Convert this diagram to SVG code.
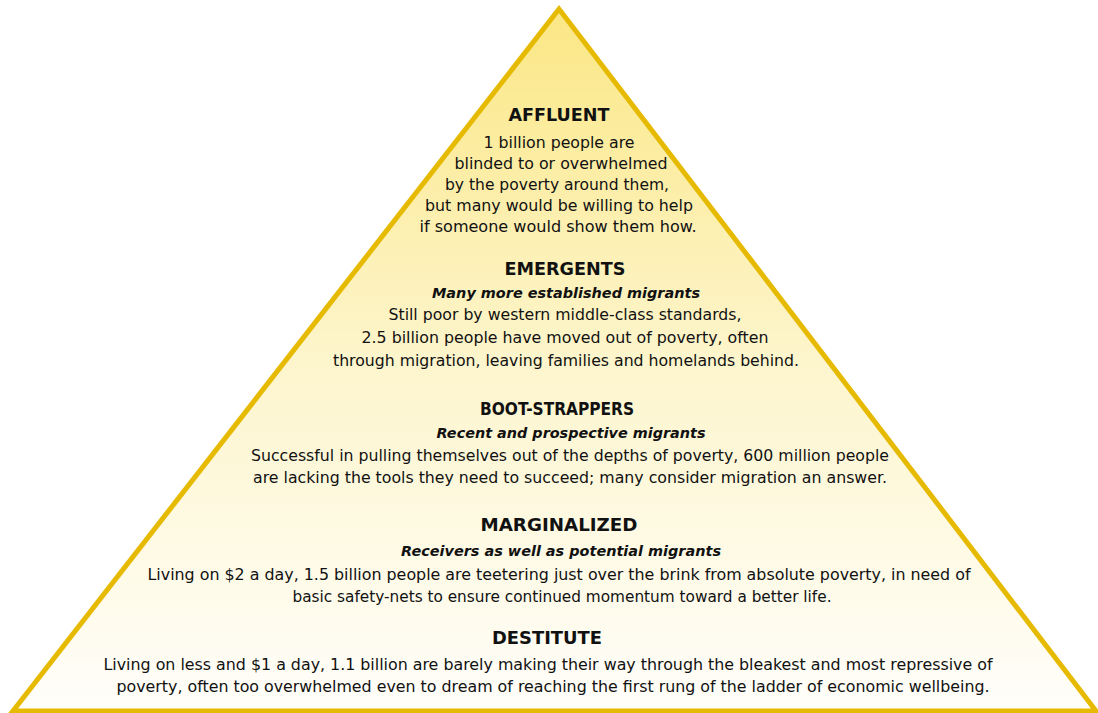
<svg xmlns="http://www.w3.org/2000/svg" width="1098" height="713" viewBox="0 0 1098 713">
<defs>
<linearGradient id="g" x1="0" y1="0" x2="0" y2="1">
<stop offset="0" stop-color="#FBE785"/>
<stop offset="0.5" stop-color="#FDF5CC"/>
<stop offset="1" stop-color="#FFFEFA"/>
</linearGradient>
</defs>
<style>
text{font-family:"DejaVu Sans","Verdana",sans-serif;fill:#111;text-anchor:middle;font-size:16px}
.h{font-weight:bold;font-size:17px}
.s{font-weight:bold;font-style:italic;font-size:14.5px}
</style>
<rect width="1098" height="713" fill="#fff"/>
<polygon id="pyramid" points="559,9 13,711 1096,711" fill="url(#g)" stroke="#E5BA00" stroke-width="5" stroke-linejoin="miter"/>
<g id="affluent">
<text class="h" x="559" y="121" textLength="101" lengthAdjust="spacingAndGlyphs">AFFLUENT</text>
<text x="559" y="148" textLength="151" lengthAdjust="spacingAndGlyphs">1 billion people are</text>
<text x="561" y="169" textLength="213" lengthAdjust="spacingAndGlyphs">blinded to or overwhelmed</text>
<text x="557" y="190" textLength="224" lengthAdjust="spacingAndGlyphs">by the poverty around them,</text>
<text x="559" y="211" textLength="268" lengthAdjust="spacingAndGlyphs">but many would be willing to help</text>
<text x="558" y="232" textLength="277" lengthAdjust="spacingAndGlyphs">if someone would show them how.</text>
</g>
<g id="emergents">
<text class="h" x="565" y="275" textLength="121" lengthAdjust="spacingAndGlyphs">EMERGENTS</text>
<text class="s" x="566" y="298" textLength="268" lengthAdjust="spacingAndGlyphs">Many more established migrants</text>
<text x="565" y="320" textLength="353" lengthAdjust="spacingAndGlyphs">Still poor by western middle-class standards,</text>
<text x="565" y="343" textLength="407" lengthAdjust="spacingAndGlyphs">2.5 billion people have moved out of poverty, often</text>
<text x="566" y="366" textLength="466" lengthAdjust="spacingAndGlyphs">through migration, leaving families and homelands behind.</text>
</g>
<g id="bootstrappers">
<text class="h" x="557" y="415" textLength="154" lengthAdjust="spacingAndGlyphs">BOOT-STRAPPERS</text>
<text class="s" x="571" y="438" textLength="269" lengthAdjust="spacingAndGlyphs">Recent and prospective migrants</text>
<text x="570" y="461" textLength="638" lengthAdjust="spacingAndGlyphs">Successful in pulling themselves out of the depths of poverty, 600 million people</text>
<text x="570" y="483" textLength="634" lengthAdjust="spacingAndGlyphs">are lacking the tools they need to succeed; many consider migration an answer.</text>
</g>
<g id="marginalized">
<text class="h" x="559" y="531" textLength="157" lengthAdjust="spacingAndGlyphs">MARGINALIZED</text>
<text class="s" x="561" y="556" textLength="320" lengthAdjust="spacingAndGlyphs">Receivers as well as potential migrants</text>
<text x="559" y="580" textLength="823" lengthAdjust="spacingAndGlyphs">Living on $2 a day, 1.5 billion people are teetering just over the brink from absolute poverty, in need of</text>
<text x="562" y="602" textLength="539" lengthAdjust="spacingAndGlyphs">basic safety-nets to ensure continued momentum toward a better life.</text>
</g>
<g id="destitute">
<text class="h" x="547" y="644" textLength="110" lengthAdjust="spacingAndGlyphs">DESTITUTE</text>
<text x="548" y="670" textLength="889" lengthAdjust="spacingAndGlyphs">Living on less and $1 a day, 1.1 billion are barely making their way through the bleakest and most repressive of</text>
<text x="553" y="692" textLength="873" lengthAdjust="spacingAndGlyphs">poverty, often too overwhelmed even to dream of reaching the first rung of the ladder of economic wellbeing.</text>
</g>
<g id="connectors"/>
</svg>
